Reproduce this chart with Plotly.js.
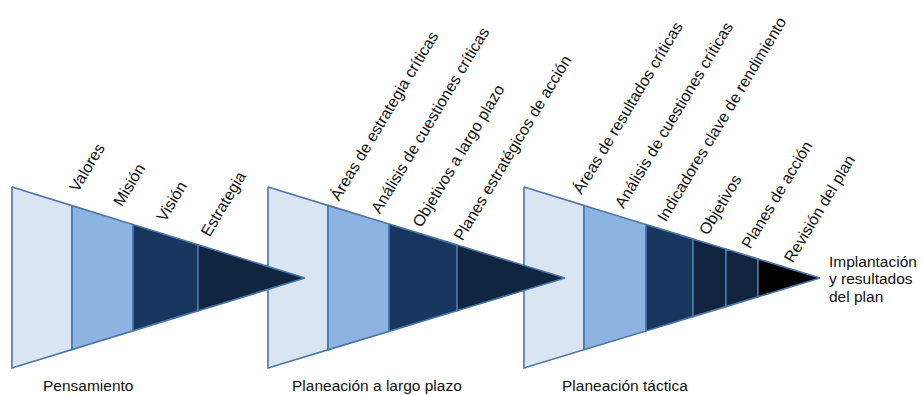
<!DOCTYPE html>
<html><head><meta charset="utf-8">
<script src="https://cdn.plot.ly/plotly-3.0.1.min.js"></script>
<style>html,body{margin:0;padding:0;background:#fff}</style></head>
<body><div id="chart" style="width:923px;height:395px"></div>
<script>
// ---- content ----
const stages = ["Pensamiento", "Planeación a largo plazo", "Planeación táctica"];
const steps1 = ["Valores", "Misión", "Visión", "Estrategia"];
const steps2 = ["Áreas de estrategia críticas", "Análisis de cuestiones críticas", "Objetivos a largo plazo", "Planes estratégicos de acción"];
const steps3 = ["Áreas de resultados críticas", "Análisis de cuestiones críticas", "Indicadores clave de rendimiento", "Objetivos", "Planes de acción", "Revisión del plan"];
const outcomeLines = ["Implantación", "y resultados", "del plan"];
const allSteps = [steps1, steps2, steps3];

// ---- layout geometry (pixels) ----
const geo = [
  {x0: 12,  apex: 305, edges: [72, 133, 198],           labelStart: [72, 193],  labelStep: [43.7, 15.0], stageX: 42},
  {x0: 268, apex: 565, edges: [328, 389, 457],          labelStart: [333, 202], labelStep: [41.3, 13.3], stageX: 291},
  {x0: 524, apex: 820, edges: [584, 646, 693, 726, 758], labelStart: [575, 196], labelStep: [42.4, 13.5], stageX: 561}
];
const yTopEdge = 187, yBottomEdge = 368, yApex = 278;
const fills = [
  ["#dbe5f1", "#8db3e2", "#17375e", "#10253f"],
  ["#dbe5f1", "#8db3e2", "#17375e", "#10253f"],
  ["#dbe5f1", "#8db3e2", "#17375e", "#10243e", "#10243e", "#000000"]
];
const lineColor = "#4a76ac";
const FONT = "Liberation Sans, Arial, sans-serif";
const ANGLE = -59;

const traces = [];
function yTop(g, x) { return yTopEdge + (x - g.x0) / (g.apex - g.x0) * (yApex - yTopEdge); }
function yBot(g, x) { return yBottomEdge - (x - g.x0) / (g.apex - g.x0) * (yBottomEdge - yApex); }

for (let s = stages.length - 1; s >= 0; s--) {
  const g = geo[s];
  const bounds = [g.x0].concat(g.edges);
  for (let i = 0; i < bounds.length; i++) {
    const a = bounds[i];
    let xs, ys;
    if (i < bounds.length - 1) {
      const b = bounds[i + 1];
      xs = [a, b, b, a, a];
      ys = [yTop(g, a), yTop(g, b), yBot(g, b), yBot(g, a), yTop(g, a)];
    } else {
      xs = [a, g.apex, a, a];
      ys = [yTop(g, a), yApex, yBot(g, a), yTop(g, a)];
    }
    traces.push({
      type: "scatter", mode: "lines", x: xs, y: ys, fill: "toself",
      fillcolor: fills[s][i], line: {color: lineColor, width: 1.6},
      hoverinfo: "skip", showlegend: false, name: allSteps[s][i]
    });
  }
}

const annotations = [];
for (let s = 0; s < stages.length; s++) {
  const g = geo[s];
  allSteps[s].forEach((t, i) => {
    const bx = g.labelStart[0] + i * g.labelStep[0];
    const by = g.labelStart[1] + i * g.labelStep[1];
    annotations.push({
      text: t, x: bx - 9, y: by + 4, xref: "x", yref: "y",
      xanchor: "left", yanchor: "bottom", textangle: ANGLE, showarrow: false,
      font: {family: FONT, size: 16, color: "#111"}
    });
  });
  annotations.push({
    text: stages[s], x: g.stageX, y: 385, xref: "x", yref: "y",
    xanchor: "left", yanchor: "middle", showarrow: false, borderpad: 0,
    font: {family: FONT, size: 15.5, color: "#111"}
  });
}
outcomeLines.forEach((t, i) => {
  annotations.push({
    text: t, x: 828, y: 261 + i * 17.5, xref: "x", yref: "y",
    xanchor: "left", yanchor: "middle", showarrow: false, borderpad: 0,
    font: {family: FONT, size: 15.5, color: "#111"}
  });
});

const layout = {
  width: 923, height: 395,
  margin: {l: 0, r: 0, t: 0, b: 0, pad: 0},
  paper_bgcolor: "#ffffff", plot_bgcolor: "#ffffff",
  xaxis: {range: [0, 923], visible: false, fixedrange: true},
  yaxis: {range: [395, 0], visible: false, fixedrange: true},
  annotations: annotations,
  showlegend: false
};
Plotly.newPlot("chart", traces, layout, {displayModeBar: false, staticPlot: true});
</script>
</body></html>
